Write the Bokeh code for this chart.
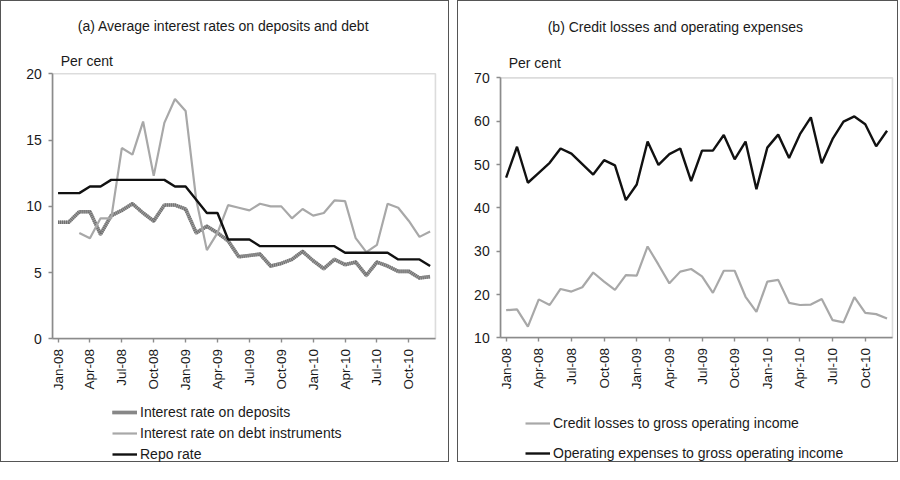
import math
from bokeh.plotting import figure
from bokeh.models import (FixedTicker, Legend, LegendItem, Label, Range1d, BoxAnnotation)
from bokeh.layouts import row
from bokeh.embed import file_html
from bokeh.resources import INLINE

# ---------------- data ----------------
months = [f"{m}-{y}" for y in ("08", "09", "10") for m in
          ("Jan", "Feb", "Mar", "Apr", "May", "Jun", "Jul", "Aug", "Sep", "Oct", "Nov", "Dec")]
tick_labels = ["Jan-08", "Apr-08", "Jul-08", "Oct-08", "Jan-09", "Apr-09",
               "Jul-09", "Oct-09", "Jan-10", "Apr-10", "Jul-10", "Oct-10"]

# panel (a): interest rates, per cent
deposits = [8.8, 8.8, 9.6, 9.6, 7.9, 9.3, 9.7, 10.2, 9.5, 8.9, 10.1, 10.1,
            9.8, 8.0, 8.5, 8.0, 7.4, 6.2, 6.3, 6.4, 5.5, 5.7, 6.0, 6.6,
            5.9, 5.3, 6.0, 5.6, 5.8, 4.8, 5.8, 5.5, 5.1, 5.1, 4.6, 4.7]
debt = [float("nan"), float("nan"), 8.0, 7.6, 9.1, 9.1, 14.4, 13.9, 16.4, 12.3, 16.3, 18.1,
        17.2, 10.5, 6.7, 8.0, 10.1, 9.9, 9.7, 10.2, 10.0, 10.0, 9.1, 9.8,
        9.3, 9.5, 10.45, 10.4, 7.6, 6.55, 7.1, 10.2, 9.9, 8.9, 7.7, 8.1]
repo = [11.0, 11.0, 11.0, 11.5, 11.5, 12.0, 12.0, 12.0, 12.0, 12.0, 12.0, 11.5,
        11.5, 10.5, 9.5, 9.5, 7.5, 7.5, 7.5, 7.0, 7.0, 7.0, 7.0, 7.0,
        7.0, 7.0, 7.0, 6.5, 6.5, 6.5, 6.5, 6.5, 6.0, 6.0, 6.0, 5.5]
y_ticks_a = [0, 5, 10, 15, 20]

# panel (b): credit losses and operating expenses, per cent of gross operating income
credit_losses = [16.4, 16.6, 12.6, 18.9, 17.6, 21.3, 20.7, 21.7, 25.1, 23.0, 21.1, 24.5,
                 24.4, 31.1, 26.9, 22.6, 25.3, 25.9, 24.2, 20.4, 25.5, 25.5, 19.5, 16.0,
                 23.0, 23.4, 18.1, 17.6, 17.7, 19.0, 14.1, 13.6, 19.4, 15.8, 15.5, 14.5]
op_expenses = [47.0, 54.1, 45.8, 48.1, 50.4, 53.7, 52.5, 50.1, 47.7, 51.0, 49.8, 41.8,
               45.4, 55.3, 49.9, 52.4, 53.7, 46.2, 53.2, 53.2, 56.8, 51.2, 55.3, 44.3,
               53.9, 56.9, 51.5, 57.0, 60.9, 50.3, 55.9, 59.9, 61.1, 59.3, 54.2, 57.8]
y_ticks_b = [10, 20, 30, 40, 50, 60, 70]

x = list(range(len(months)))
tick_pos = [months.index(t) for t in tick_labels]
X0, X1 = -0.5, len(months) - 0.5

FONT = "Liberation Sans"
TXT = "#1a1a1a"
AXIS = "#8c8c8c"
LIGHT = "#a8a8a8"
DARK = "#111111"


def panel(width, height, area, y0, y1, yticks):
    """area = (left, top, w, h) of the plotting box in canvas pixels."""
    fw, fh = width - 2, height - 2          # canvas inside the 1px CSS border
    al, at, aw, ah = area
    kx = (X1 - X0) / aw
    ky = (y1 - y0) / ah
    xr = Range1d(X0 - al * kx, X1 + (fw - al - aw) * kx)
    yr = Range1d(y0 - (fh - at - ah) * ky, y1 + at * ky)
    p = figure(width=width, height=height, output_backend="svg", toolbar_location=None,
               x_range=xr, y_range=yr, min_border=0,
               min_border_left=0, min_border_right=0, min_border_top=0, min_border_bottom=0)
    p.outline_line_color = None
    p.xgrid.visible = False
    p.ygrid.visible = False
    p.styles = {"border": "1px solid #555555"}

    p.xaxis.fixed_location = y0
    p.xaxis.bounds = (X0, X1)
    p.xaxis.ticker = FixedTicker(ticks=tick_pos)
    p.xaxis.major_label_overrides = {i: months[i] for i in tick_pos}
    p.xaxis.major_label_orientation = math.pi / 2
    p.xaxis.major_label_text_font_size = "13.5px"
    p.xaxis.major_label_standoff = 6
    p.yaxis.fixed_location = X0
    p.yaxis.bounds = (y0, y1)
    p.yaxis.ticker = FixedTicker(ticks=yticks)
    p.yaxis.major_label_text_font_size = "14px"
    p.yaxis.major_label_standoff = 7
    for ax in (p.xaxis, p.yaxis):
        ax.axis_line_color = AXIS
        ax.axis_line_width = 1.6
        ax.major_tick_line_color = AXIS
        ax.major_tick_line_width = 1.4
        ax.major_tick_in = 0
        ax.major_tick_out = 4
        ax.minor_tick_line_color = None
        ax.major_label_text_font = FONT
        ax.major_label_text_color = TXT
    # plotting-area box (top and right edges)
    p.add_layout(BoxAnnotation(left=X0, right=X1, bottom=y0, top=y1, fill_color=None,
                               fill_alpha=0, line_color=AXIS, line_width=1.6))
    return p


def text(p, s, y_top, dx, dy):
    p.add_layout(Label(x=X0, y=y_top, x_offset=dx, y_offset=dy, text=s, text_font=FONT,
                       text_font_size="14px", text_color=TXT, text_align="left",
                       text_baseline="middle"))


def legend(items, loc, spacing):
    return Legend(items=items, location=loc, orientation="vertical",
                  glyph_width=25, glyph_height=16, label_height=16,
                  label_standoff=3, spacing=spacing, padding=0, margin=0,
                  background_fill_alpha=0, border_line_color=None,
                  label_text_font=FONT, label_text_font_size="14px", label_text_color=TXT)


# ---------------- panel (a) ----------------
p1 = panel(449, 462, (51, 72, 381, 264), 0, 20, y_ticks_a)
r_dep_a = p1.line(x, deposits, line_color="#a0a0a0", line_width=3.6, line_join="round")
r_dep_b = p1.line(x, deposits, line_color="#6e6e6e", line_width=3.6, line_dash="1 1")
r_debt = p1.line(x, debt, line_color=LIGHT, line_width=2.2)
r_repo = p1.line(x, repo, line_color=DARK, line_width=2.4)
p1.add_layout(legend([LegendItem(label="Interest rate on deposits", renderers=[r_dep_a, r_dep_b]),
                      LegendItem(label="Interest rate on debt instruments", renderers=[r_debt]),
                      LegendItem(label="Repo rate", renderers=[r_repo])], (111, 1), 5))
text(p1, "(a)  Average interest rates on deposits and debt", 20, 25, 48)
text(p1, "Per cent", 20, 8, 13)

# ---------------- panel (b) ----------------
p2 = panel(441, 462, (42, 76, 390, 259), 10, 70, y_ticks_b)
r_cl = p2.line(x, credit_losses, line_color=LIGHT, line_width=2.2)
r_op = p2.line(x, op_expenses, line_color=DARK, line_width=2.4)
p2.add_layout(legend([LegendItem(label="Credit losses to gross operating income", renderers=[r_cl]),
                      LegendItem(label="Operating expenses to gross operating income", renderers=[r_op])],
                     (67, 2), 14))
text(p2, "(b)  Credit losses and operating expenses", 70, 47, 51)
text(p2, "Per cent", 70, 8, 15)

layout = row(p1, p2, spacing=8)
open("out.html", "w").write(file_html(layout, INLINE))
